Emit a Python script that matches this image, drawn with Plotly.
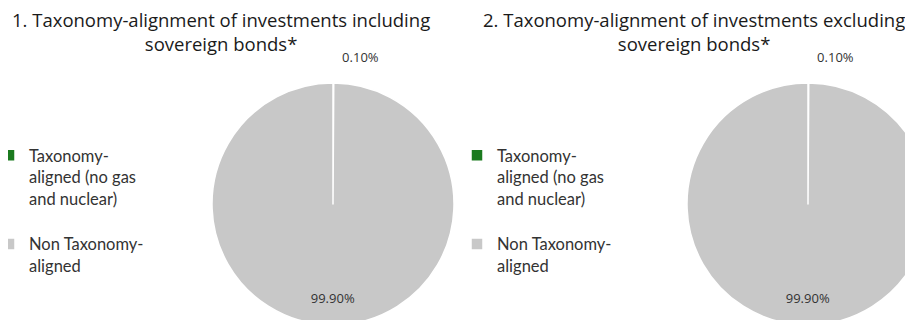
import plotly.graph_objects as go

labels = ["Taxonomy-<br>aligned (no gas<br>and nuclear)<br> ", "Non Taxonomy-<br>aligned"]
incl_values = [0.10, 99.90]
excl_values = [0.10, 99.90]
titles = ["1. Taxonomy-alignment of investments including<br>sovereign bonds*",
          "2. Taxonomy-alignment of investments excluding<br>sovereign bonds*"]
colors = ["#1b7a1f", "#c8c8c8"]

W, H = 935, 330
OFF = 8  # page body margin

fig = go.Figure()

def dom(cx, cy_top, r):
    cx -= OFF
    cy_top -= OFF
    return dict(x=[(cx - r) / W, (cx + r) / W],
                y=[(H - (cy_top + 2 * r)) / H, (H - cy_top) / H])

for i, (vals, legend_name, d) in enumerate([
        (incl_values, "legend", dom(333, 83, 121)),
        (excl_values, "legend2", dom(808, 83, 121))]):
    fig.add_trace(go.Pie(
        labels=labels, values=vals, sort=False, direction="clockwise", rotation=0,
        marker=dict(colors=colors, line=dict(color="white", width=1.5)),
        texttemplate=["%{percent:.2%}<br> ", " <br> <br> <br> <br>%{percent:.2%}"],
        textposition=["outside", "inside"],
        insidetextorientation="horizontal",
        textfont=dict(family="Open Sans", size=13, color="#333333"),
        domain=d, legend=legend_name, legendgroup="g%d" % i,
        hoverinfo="label+percent",
    ))

leg_common = dict(font=dict(family="Lato", size=16.5, color="#333333"), valign="top",
                  bgcolor="rgba(0,0,0,0)", xanchor="left", yanchor="top")
fig.update_layout(
    width=W, height=H, margin=dict(l=0, r=0, t=0, b=0, autoexpand=False),
    paper_bgcolor="white", plot_bgcolor="white",
    legend=dict(x=-19 / W, y=(H - 130) / H, **leg_common),
    legend2=dict(x=449 / W, y=(H - 130) / H, **leg_common),
)
for tx, t in zip([221, 694], titles):
    fig.add_annotation(x=(tx - OFF) / W, y=1 + 3 / H, xref="paper", yref="paper",
                       text=t, showarrow=False, xanchor="center", yanchor="top",
                       font=dict(family="Open Sans", size=18.5, color="#1a1a1a"))

fig.write_html("out.html")
